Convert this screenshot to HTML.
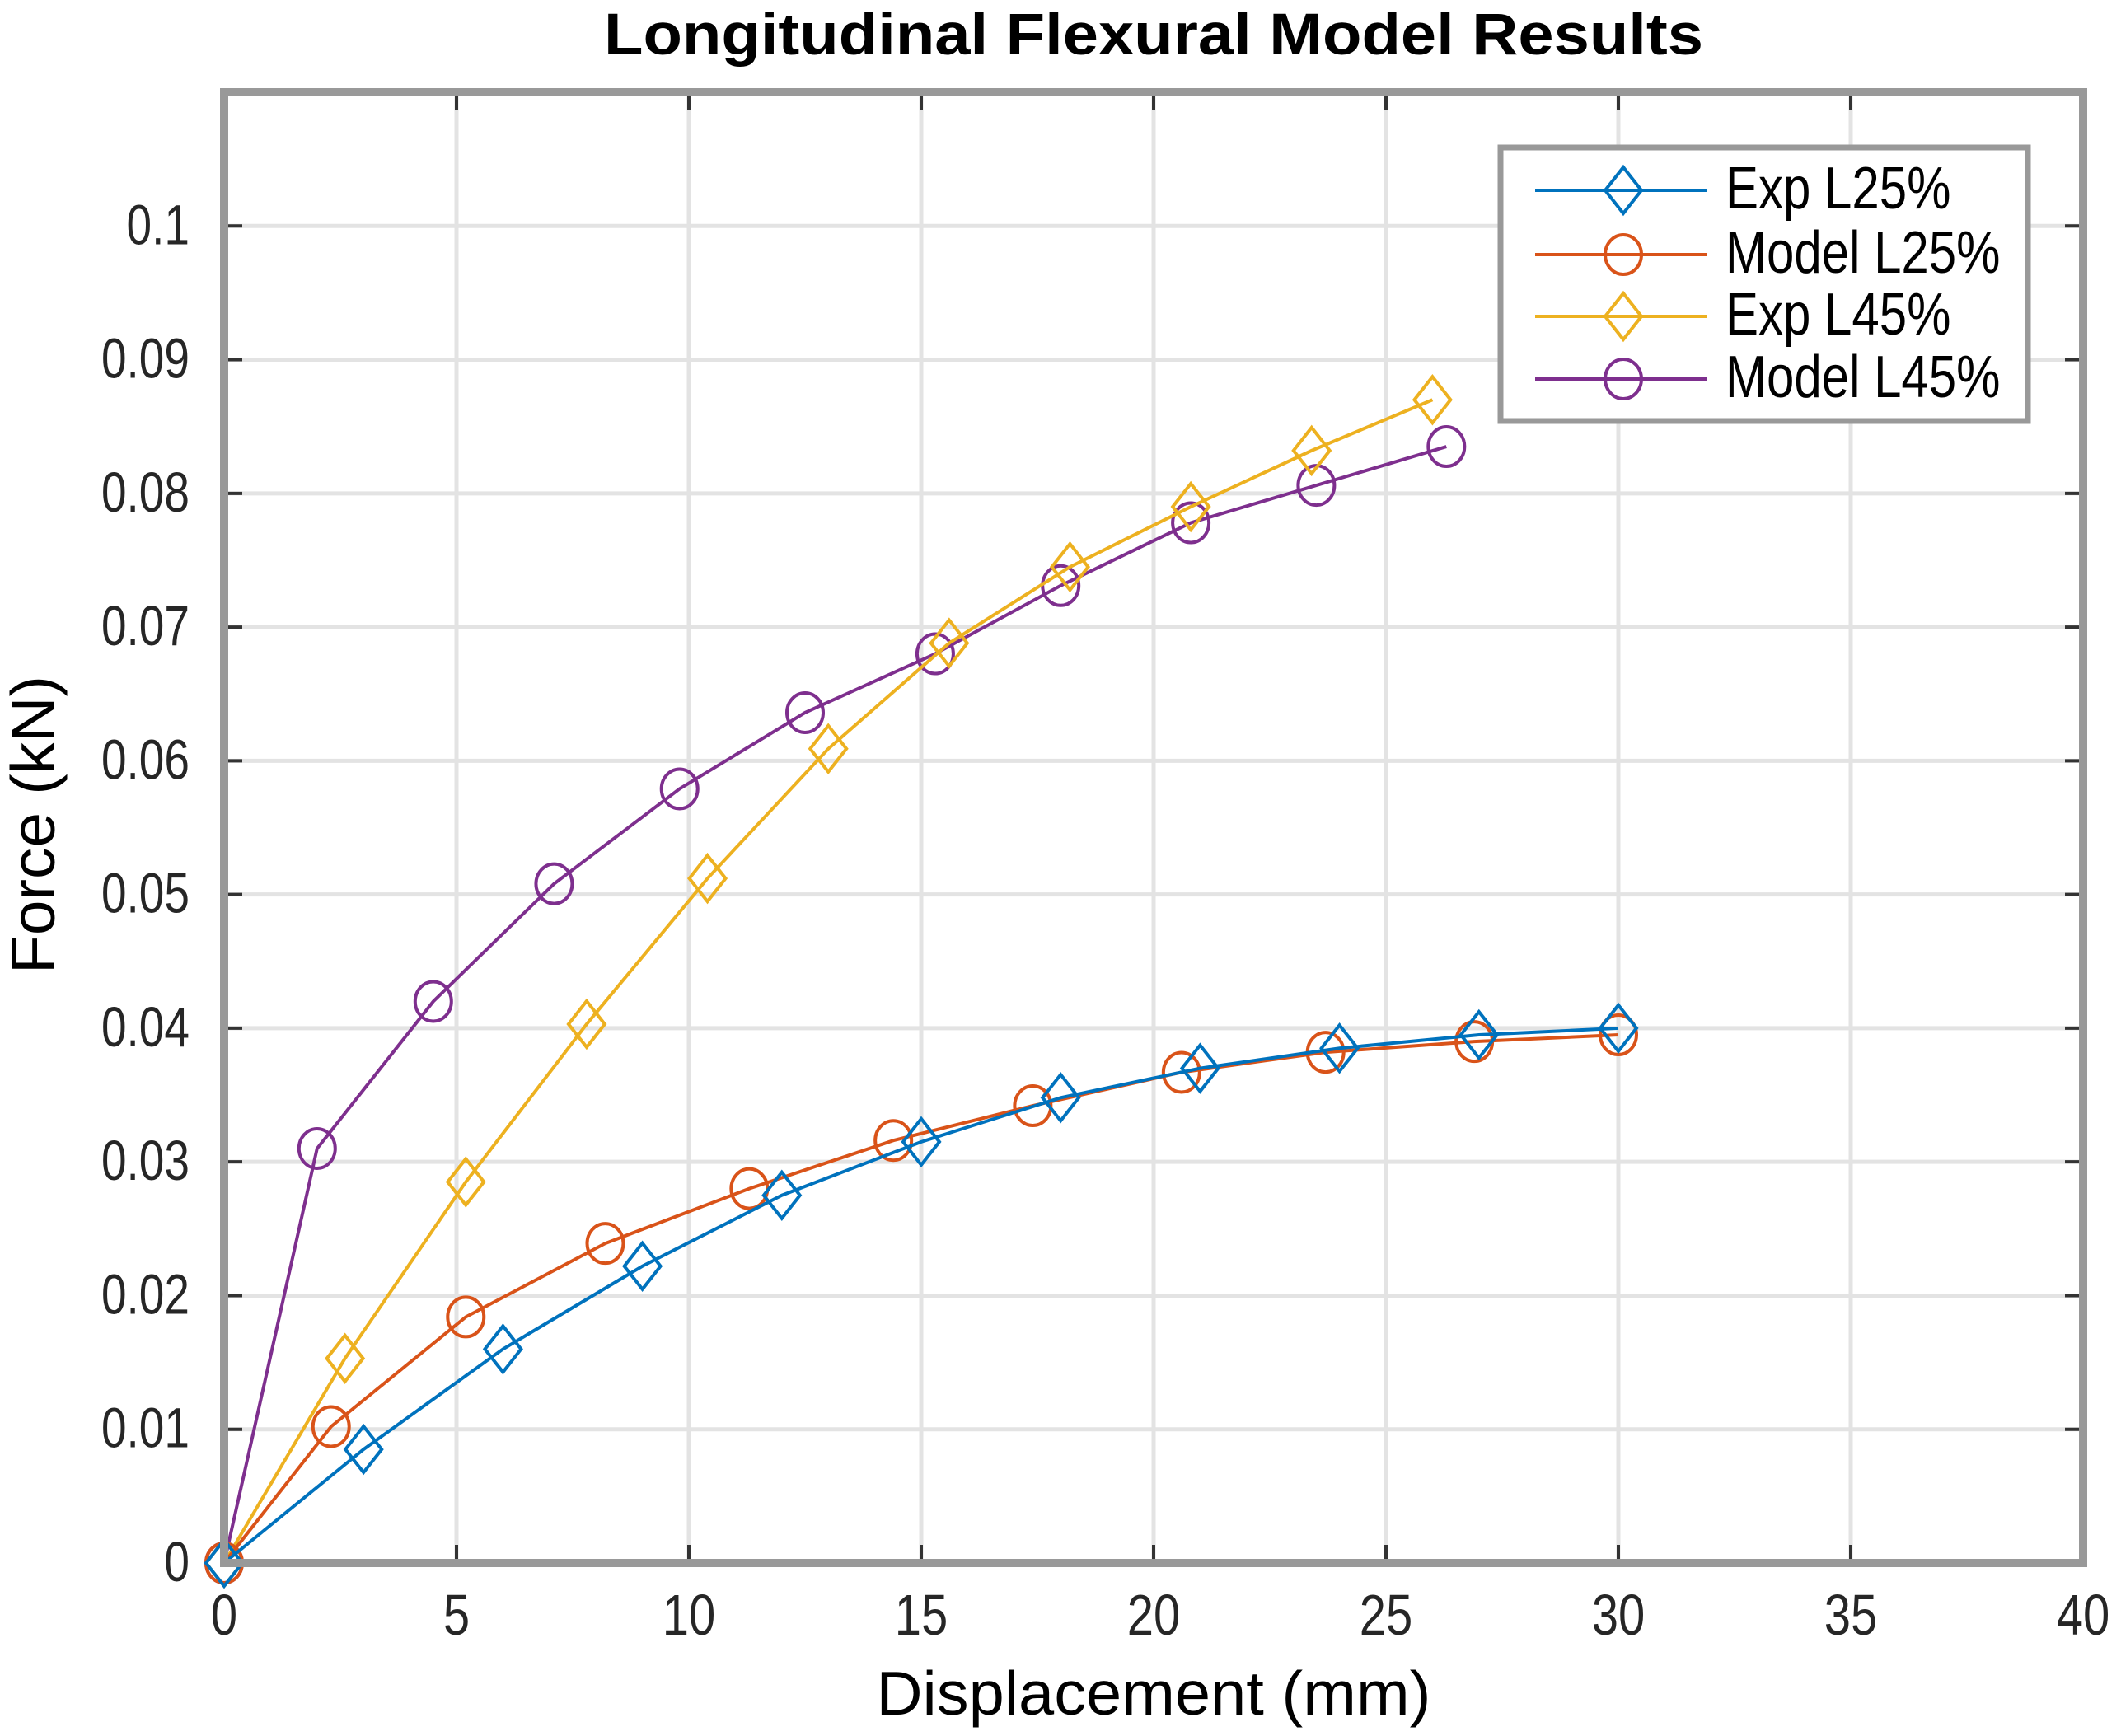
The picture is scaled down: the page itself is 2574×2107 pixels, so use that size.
<!DOCTYPE html>
<html><head><meta charset="utf-8"><style>
html,body{margin:0;padding:0;background:#fff;}
svg{display:block;font-family:"Liberation Sans",Arial,sans-serif;}
</style></head><body>
<svg id="chart" width="2574" height="2107" viewBox="0 0 2574 2107" xmlns="http://www.w3.org/2000/svg">
<rect width="2574" height="2107" fill="#fff"/>
<g id="grid"></g>
<g id="series"></g>
<g id="axes"></g>
<text x="1400" y="66" text-anchor="middle" font-weight="bold" font-size="56" textLength="1334" lengthAdjust="spacingAndGlyphs" style="transform-origin:1400px 66px;transform:scaleY(1.28)">Longitudinal Flexural Model Results</text>
<text x="1400" y="2081" text-anchor="middle" font-size="58" textLength="673" lengthAdjust="spacingAndGlyphs" style="transform-origin:1400px 2081px;transform:scaleY(1.3)">Displacement (mm)</text>
<text x="0" y="0" text-anchor="middle" font-size="58" textLength="362" lengthAdjust="spacingAndGlyphs" transform="translate(66,1001) rotate(-90) scale(1,1.3)">Force (kN)</text>
<g id="legend">
<rect x="1821" y="179" width="640" height="332" fill="#fff" stroke="#999" stroke-width="7"/>
</g>
</svg>
<script>
const xTicks=[0,5,10,15,20,25,30,35,40];
const yTicks=[0,0.01,0.02,0.03,0.04,0.05,0.06,0.07,0.08,0.09,0.1];
const yTickLabels=["0","0.01","0.02","0.03","0.04","0.05","0.06","0.07","0.08","0.09","0.1"];
const seriesNames=["Exp L25%","Model L25%","Exp L45%","Model L45%"];
const expL25X=[0,3,6,9,12,15,18,21,24,27,30];
const expL25Y=[0,0.0085,0.016,0.0222,0.0275,0.0315,0.0348,0.037,0.0385,0.0395,0.04];
const modelL25X=[0,2.3,5.2,8.2,11.3,14.4,17.4,20.6,23.7,26.9,30];
const modelL25Y=[0,0.0102,0.0184,0.0239,0.028,0.0316,0.0342,0.0367,0.0382,0.039,0.0395];
const expL45X=[0,2.6,5.2,7.8,10.4,13,15.6,18.2,20.8,23.4,26];
const expL45Y=[0,0.0153,0.0285,0.0403,0.0512,0.0609,0.0688,0.0745,0.079,0.0832,0.087];
const modelL45X=[0,2.0,4.5,7.1,9.8,12.5,15.3,18,20.8,23.5,26.3];
const modelL45Y=[0,0.031,0.042,0.0508,0.0579,0.0636,0.068,0.0731,0.0778,0.0806,0.0835];

const NS="http://www.w3.org/2000/svg";
const L=272,R=2528,T=112,B=1897;
const X=v=>L+(v/40)*(R-L);
const Y=v=>B-(v/0.11)*(B-T);
function mk(tag,attrs,parent){const e=document.createElementNS(NS,tag);for(const k in attrs)e.setAttribute(k,attrs[k]);parent.appendChild(e);return e;}
const grid=document.getElementById('grid'),axes=document.getElementById('axes'),ser=document.getElementById('series'),leg=document.getElementById('legend');
xTicks.forEach((t,i)=>{
  const g=mk('line',{x1:X(t),x2:X(t),y1:T,y2:B,stroke:'#e3e3e3','stroke-width':5},grid);
  
  
  const tk=mk('line',{x1:X(t),x2:X(t),y1:B,y2:B-22,stroke:'#333','stroke-width':4},axes);
  
  
  const tk2=mk('line',{x1:X(t),x2:X(t),y1:T,y2:T+22,stroke:'#333','stroke-width':4},axes);
  
  
  const by=1984;
  const tx=mk('text',{x:X(t),y:by,'text-anchor':'middle','font-size':58,fill:'#262626',transform:`translate(0,${-by*0.2}) scale(1,1.2)`},axes);
  tx.textContent=String(t);
  
  
});
yTicks.forEach((t,i)=>{
  const g=mk('line',{x1:L,x2:R,y1:Y(t),y2:Y(t),stroke:'#e3e3e3','stroke-width':5},grid);
  
  
  const tk=mk('line',{x1:L,x2:L+22,y1:Y(t),y2:Y(t),stroke:'#333','stroke-width':4},axes);
  
  
  const tk2=mk('line',{x1:R,x2:R-22,y1:Y(t),y2:Y(t),stroke:'#333','stroke-width':4},axes);
  
  
  const by=Y(t)+22;
  const tx=mk('text',{x:230,y:by,'text-anchor':'end','font-size':55,fill:'#262626',transform:`translate(0,${-by*0.25}) scale(1,1.25)`},axes);
  tx.textContent=yTickLabels[i];
  
  
});
const box=mk('rect',{x:L,y:T,width:R-L,height:B-T,fill:'none',stroke:'#999','stroke-width':10},axes);



const colors=['#0072BD','#D95319','#EDB120','#7E2F8E'];
const markers=['diamond','circle','diamond','circle'];
const xs=[expL25X,modelL25X,expL45X,modelL45X];
const ys=[expL25Y,modelL25Y,expL45Y,modelL45Y];
function marker(type,cx,cy,col,parent){
  let m;
  if(type==='circle') m=mk('ellipse',{cx:cx,cy:cy,rx:22,ry:24,fill:'none',stroke:col,'stroke-width':4},parent);
  else m=mk('polygon',{points:`${cx},${cy-28} ${cx+22},${cy} ${cx},${cy+28} ${cx-22},${cy}`,fill:'none',stroke:col,'stroke-width':4},parent);
  return m;
}
[3,2,1,0].forEach(s=>{
  const g=mk('g',{},ser);
  
  
  const pts=xs[s].map((v,i)=>X(v)+','+Y(ys[s][i])).join(' ');
  const pl=mk('polyline',{points:pts,fill:'none',stroke:colors[s],'stroke-width':4},g);
  
  
  xs[s].forEach((v,i)=>{
    const m=marker(markers[s],X(v),Y(ys[s][i]),colors[s],g);
    
    
  });
});
const rowY=[231,309,384,460];
seriesNames.forEach((n,s)=>{
  const g=mk('g',{},leg);
  
  
  mk('line',{x1:1863,x2:2072,y1:rowY[s],y2:rowY[s],stroke:colors[s],'stroke-width':4},g);
  marker(markers[s],1970,rowY[s],colors[s],g);
  const by=rowY[s]+22;
  const t=mk('text',{x:2094,y:by,'font-size':60,fill:'#000',transform:`translate(0,${-by*0.2}) scale(1,1.2)`},g);
  t.textContent=n;
});
</script>
</body></html>
